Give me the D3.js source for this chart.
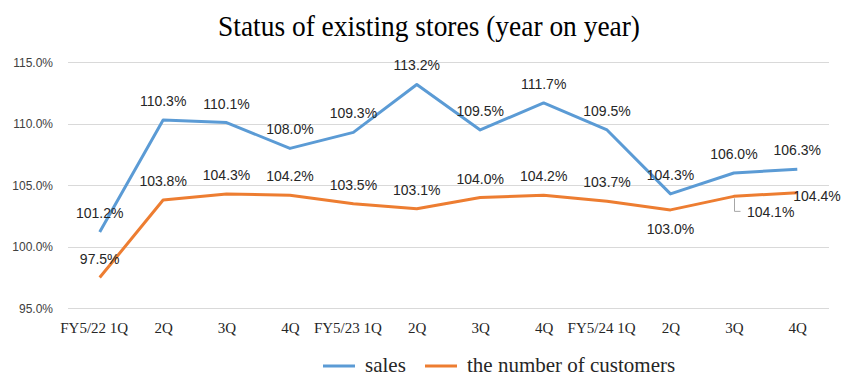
<!DOCTYPE html>
<head>
  <meta charset="utf-8">
  <script src="https://d3js.org/d3.v7.min.js"></script>
  <style>
    body { margin: 0; background: #fff; }
    .line { fill: none; stroke-width: 3px; stroke-linejoin: round; }
    .grid line { stroke: #d9d9d9; stroke-width: 1px; }
    .lbl { font-family: "Liberation Sans", Arial, sans-serif; font-size: 14px; fill: #262626; }
  </style>
</head>
<body>
  <script>

    // data
    var quarters = ["FY5/22 1Q", "2Q", "3Q", "4Q", "FY5/23 1Q", "2Q", "3Q", "4Q", "FY5/24 1Q", "2Q", "3Q", "4Q"];
    var sales = [101.2, 110.3, 110.1, 108.0, 109.3, 113.2, 109.5, 111.7, 109.5, 104.3, 106.0, 106.3];
    var customers = [97.5, 103.8, 104.3, 104.2, 103.5, 103.1, 104.0, 104.2, 103.7, 103.0, 104.1, 104.4];
    var yTicks = [95, 100, 105, 110, 115];
    var seriesNames = ["sales", "the number of customers"];
    var colors = ["#5b9bd5", "#ed7d31"];

    // where the customer labels sit
    var custPlace = ["above", "above", "above", "above", "above", "above", "above", "above", "above", "below", "leader", "right"];

    var svg = d3.select("body").append("svg")
      .attr("width", 849)
      .attr("height", 384);

    var x = d3.scalePoint()
      .domain(d3.range(quarters.length))
      .range([68, 829])
      .padding(0.5);

    var y = d3.scaleLinear()
      .domain([95, 115])
      .range([308.3, 62.3]);

    // title
    svg.append("text")
      .text("Status of existing stores (year on year)")
      .attr("x", 218)
      .attr("y", 36)
      .attr("textLength", 422)
      .attr("lengthAdjust", "spacingAndGlyphs")
      .style("font-family", "'Liberation Serif', 'Times New Roman', serif")
      .style("font-size", "30px")
      .style("fill", "#000");

    // gridlines
    svg.append("g").attr("class", "grid")
      .selectAll("line").data(yTicks).enter()
      .append("line")
        .attr("x1", 68)
        .attr("x2", 829)
        .attr("y1", function(d) { return Math.round(y(d)) + 0.5; })
        .attr("y2", function(d) { return Math.round(y(d)) + 0.5; });

    // y axis labels
    var yAxis = svg.append("g")
      .attr("transform", "translate(68,0)")
      .call(d3.axisLeft(y).tickValues(yTicks).tickSize(0).tickPadding(15)
        .tickFormat(function(d) { return d.toFixed(1) + "%"; }));
    yAxis.select(".domain").remove();
    yAxis.selectAll("text")
      .style("font-family", "'Liberation Sans', Arial, sans-serif")
      .style("font-size", "12px")
      .style("fill", "#404040");

    // x axis labels
    var xAxis = svg.append("g")
      .attr("transform", "translate(0,322)")
      .call(d3.axisBottom(x).tickSize(0).tickPadding(0)
        .tickFormat(function(i) { return quarters[i]; }));
    xAxis.select(".domain").remove();
    xAxis.selectAll("text")
      .attr("dx", function(i) { return quarters[i].length > 3 ? -6 : 0; })
      .style("font-family", "'Liberation Serif', 'Times New Roman', serif")
      .style("font-size", "15px")
      .style("fill", "#262626");

    var line = d3.line()
      .x(function(d, i) { return x(i); })
      .y(function(d) { return y(d); });

    [sales, customers].forEach(function(s, k) {
      svg.append("path")
        .datum(s)
        .attr("class", "line")
        .attr("stroke", colors[k])
        .attr("d", line);
    });

    var fmt = function(d) { return d.toFixed(1) + "%"; };

    // sales labels, all above
    svg.selectAll(".sl").data(sales).enter()
      .append("text")
        .attr("class", "lbl")
        .attr("text-anchor", "middle")
        .attr("x", function(d, i) { return x(i); })
        .attr("y", function(d) { return y(d) - 14; })
        .text(fmt);

    // customer labels
    svg.selectAll(".cl").data(customers).enter()
      .append("text")
        .attr("class", "lbl")
        .attr("text-anchor", function(d, i) { return custPlace[i] == "above" || custPlace[i] == "below" ? "middle" : "start"; })
        .attr("x", function(d, i) {
          if (custPlace[i] == "right") return x(i) - 4;
          if (custPlace[i] == "leader") return x(i) + 13;
          return x(i);
        })
        .attr("y", function(d, i) {
          if (custPlace[i] == "below") return y(d) + 24;
          if (custPlace[i] == "right") return y(d) + 8;
          if (custPlace[i] == "leader") return y(d) + 21;
          return y(d) - 14;
        })
        .text(fmt);

    // leader line for the label pushed off its point
    custPlace.forEach(function(p, i) {
      if (p != "leader") return;
      var px = Math.round(x(i)) + 0.5, py = y(customers[i]);
      svg.append("path")
        .attr("d", "M" + px + "," + (py + 2) + "V" + (py + 15) + "H" + (px + 6))
        .attr("fill", "none")
        .attr("stroke", "#a6a6a6")
        .attr("stroke-width", 1);
    });

    // legend
    var legend = svg.append("g");
    var legX = [323, 425];
    seriesNames.forEach(function(n, k) {
      legend.append("line")
        .attr("x1", legX[k]).attr("x2", legX[k] + 32)
        .attr("y1", 366).attr("y2", 366)
        .attr("stroke", colors[k])
        .attr("stroke-width", 3);
      legend.append("text")
        .text(n)
        .attr("x", legX[k] + 42)
        .attr("y", 372)
        .style("font-family", "'Liberation Serif', 'Times New Roman', serif")
        .style("font-size", "21px")
        .style("fill", "#262626");
    });

  </script>
</body>
